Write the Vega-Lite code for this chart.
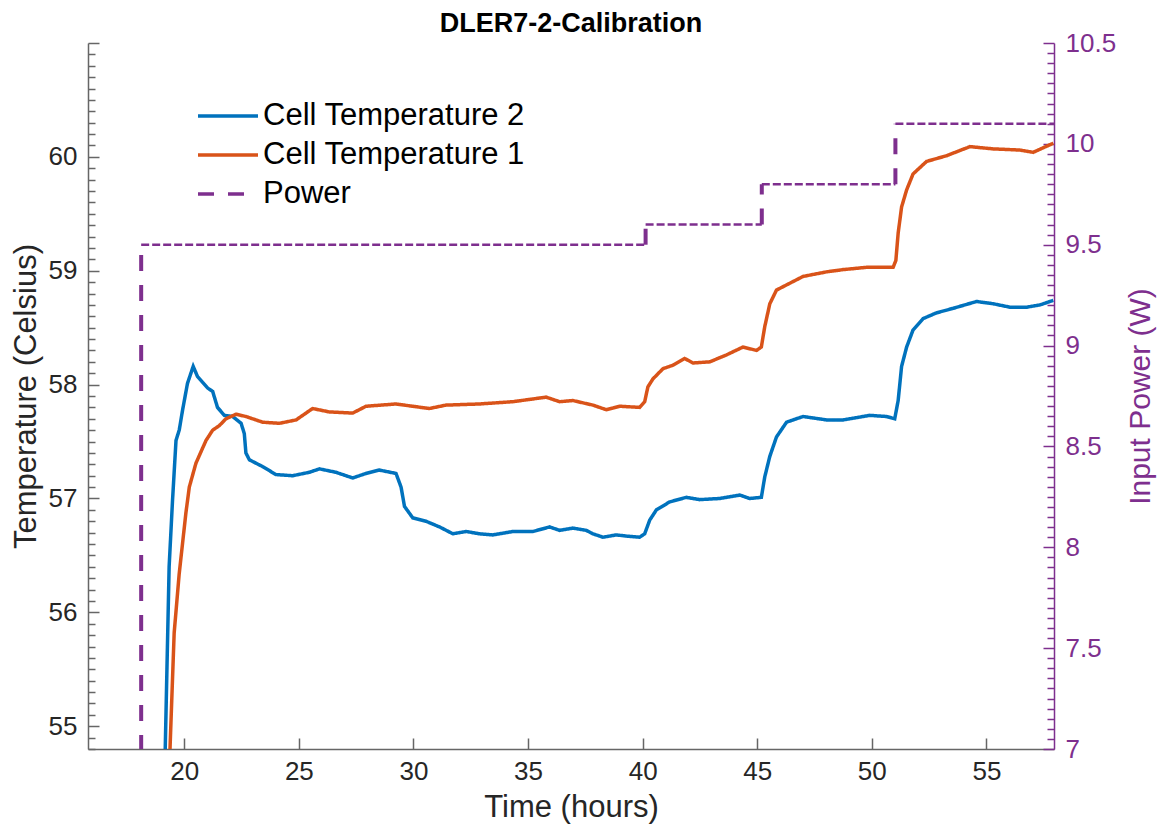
{
  "$schema": "https://vega.github.io/schema/vega-lite/v6.json",
  "width": 966,
  "height": 706,
  "autosize": {"type": "none"},
  "padding": {"left": 88, "top": 43, "right": 109, "bottom": 77},
  "background": "white",
  "config": {
    "view": {"stroke": null},
    "font": "Liberation Sans",
    "axis": {"grid": false, "labelFont": "Liberation Sans", "titleFont": "Liberation Sans", "labelFontSize": 26, "titleFontSize": 30, "titleFontWeight": "normal", "labelColor": "#262626", "titleColor": "#262626", "domainColor": "#666666", "tickColor": "#666666", "domainWidth": 1.5, "tickWidth": 1.5, "labelOverlap": false, "labelFlush": false}
  },
  "title": {"text": "DLER7-2-Calibration", "font": "Liberation Sans", "fontSize": 27, "fontWeight": "bold", "color": "#000000", "anchor": "middle", "offset": -8},
  "datasets": {
    "temp": [
      {"time": 19.05, "series": "Cell Temperature 2", "temp": 54.0},
      {"time": 19.17, "series": "Cell Temperature 2", "temp": 54.8},
      {"time": 19.34, "series": "Cell Temperature 2", "temp": 56.40},
      {"time": 19.49, "series": "Cell Temperature 2", "temp": 56.99},
      {"time": 19.64, "series": "Cell Temperature 2", "temp": 57.51},
      {"time": 19.78, "series": "Cell Temperature 2", "temp": 57.60},
      {"time": 19.93, "series": "Cell Temperature 2", "temp": 57.78},
      {"time": 20.14, "series": "Cell Temperature 2", "temp": 58.01},
      {"time": 20.39, "series": "Cell Temperature 2", "temp": 58.16},
      {"time": 20.58, "series": "Cell Temperature 2", "temp": 58.07},
      {"time": 20.80, "series": "Cell Temperature 2", "temp": 58.02},
      {"time": 21.02, "series": "Cell Temperature 2", "temp": 57.97},
      {"time": 21.24, "series": "Cell Temperature 2", "temp": 57.94},
      {"time": 21.45, "series": "Cell Temperature 2", "temp": 57.80},
      {"time": 21.75, "series": "Cell Temperature 2", "temp": 57.73},
      {"time": 22.11, "series": "Cell Temperature 2", "temp": 57.72},
      {"time": 22.48, "series": "Cell Temperature 2", "temp": 57.66},
      {"time": 22.62, "series": "Cell Temperature 2", "temp": 57.57},
      {"time": 22.69, "series": "Cell Temperature 2", "temp": 57.40},
      {"time": 22.84, "series": "Cell Temperature 2", "temp": 57.34},
      {"time": 23.42, "series": "Cell Temperature 2", "temp": 57.28},
      {"time": 24.00, "series": "Cell Temperature 2", "temp": 57.21},
      {"time": 24.73, "series": "Cell Temperature 2", "temp": 57.20},
      {"time": 25.46, "series": "Cell Temperature 2", "temp": 57.23},
      {"time": 25.90, "series": "Cell Temperature 2", "temp": 57.26},
      {"time": 26.62, "series": "Cell Temperature 2", "temp": 57.23},
      {"time": 27.35, "series": "Cell Temperature 2", "temp": 57.18},
      {"time": 27.93, "series": "Cell Temperature 2", "temp": 57.22},
      {"time": 28.50, "series": "Cell Temperature 2", "temp": 57.25},
      {"time": 29.24, "series": "Cell Temperature 2", "temp": 57.22},
      {"time": 29.46, "series": "Cell Temperature 2", "temp": 57.10},
      {"time": 29.61, "series": "Cell Temperature 2", "temp": 56.93},
      {"time": 29.97, "series": "Cell Temperature 2", "temp": 56.83},
      {"time": 30.55, "series": "Cell Temperature 2", "temp": 56.80},
      {"time": 31.14, "series": "Cell Temperature 2", "temp": 56.75},
      {"time": 31.72, "series": "Cell Temperature 2", "temp": 56.69},
      {"time": 32.30, "series": "Cell Temperature 2", "temp": 56.71},
      {"time": 32.88, "series": "Cell Temperature 2", "temp": 56.69},
      {"time": 33.46, "series": "Cell Temperature 2", "temp": 56.68},
      {"time": 34.34, "series": "Cell Temperature 2", "temp": 56.71},
      {"time": 35.21, "series": "Cell Temperature 2", "temp": 56.71},
      {"time": 35.94, "series": "Cell Temperature 2", "temp": 56.75},
      {"time": 36.38, "series": "Cell Temperature 2", "temp": 56.72},
      {"time": 36.96, "series": "Cell Temperature 2", "temp": 56.74},
      {"time": 37.54, "series": "Cell Temperature 2", "temp": 56.72},
      {"time": 37.83, "series": "Cell Temperature 2", "temp": 56.69},
      {"time": 38.27, "series": "Cell Temperature 2", "temp": 56.66},
      {"time": 38.85, "series": "Cell Temperature 2", "temp": 56.68},
      {"time": 39.29, "series": "Cell Temperature 2", "temp": 56.67},
      {"time": 39.87, "series": "Cell Temperature 2", "temp": 56.66},
      {"time": 40.09, "series": "Cell Temperature 2", "temp": 56.69},
      {"time": 40.31, "series": "Cell Temperature 2", "temp": 56.81},
      {"time": 40.60, "series": "Cell Temperature 2", "temp": 56.90},
      {"time": 41.18, "series": "Cell Temperature 2", "temp": 56.97},
      {"time": 41.91, "series": "Cell Temperature 2", "temp": 57.01},
      {"time": 42.49, "series": "Cell Temperature 2", "temp": 56.99},
      {"time": 43.36, "series": "Cell Temperature 2", "temp": 57.00},
      {"time": 44.24, "series": "Cell Temperature 2", "temp": 57.03},
      {"time": 44.67, "series": "Cell Temperature 2", "temp": 57.00},
      {"time": 45.18, "series": "Cell Temperature 2", "temp": 57.01},
      {"time": 45.33, "series": "Cell Temperature 2", "temp": 57.19},
      {"time": 45.55, "series": "Cell Temperature 2", "temp": 57.37},
      {"time": 45.84, "series": "Cell Temperature 2", "temp": 57.54},
      {"time": 46.28, "series": "Cell Temperature 2", "temp": 57.67},
      {"time": 47.00, "series": "Cell Temperature 2", "temp": 57.72},
      {"time": 48.02, "series": "Cell Temperature 2", "temp": 57.69},
      {"time": 48.75, "series": "Cell Temperature 2", "temp": 57.69},
      {"time": 49.91, "series": "Cell Temperature 2", "temp": 57.73},
      {"time": 50.64, "series": "Cell Temperature 2", "temp": 57.72},
      {"time": 51.00, "series": "Cell Temperature 2", "temp": 57.70},
      {"time": 51.15, "series": "Cell Temperature 2", "temp": 57.86},
      {"time": 51.30, "series": "Cell Temperature 2", "temp": 58.16},
      {"time": 51.52, "series": "Cell Temperature 2", "temp": 58.33},
      {"time": 51.80, "series": "Cell Temperature 2", "temp": 58.48},
      {"time": 52.24, "series": "Cell Temperature 2", "temp": 58.58},
      {"time": 52.82, "series": "Cell Temperature 2", "temp": 58.63},
      {"time": 53.55, "series": "Cell Temperature 2", "temp": 58.67},
      {"time": 54.57, "series": "Cell Temperature 2", "temp": 58.73},
      {"time": 55.30, "series": "Cell Temperature 2", "temp": 58.71},
      {"time": 56.03, "series": "Cell Temperature 2", "temp": 58.68},
      {"time": 56.76, "series": "Cell Temperature 2", "temp": 58.68},
      {"time": 57.34, "series": "Cell Temperature 2", "temp": 58.70},
      {"time": 57.92, "series": "Cell Temperature 2", "temp": 58.74},
      {"time": 19.24, "series": "Cell Temperature 1", "temp": 54.0},
      {"time": 19.38, "series": "Cell Temperature 1", "temp": 54.81},
      {"time": 19.56, "series": "Cell Temperature 1", "temp": 55.82},
      {"time": 19.78, "series": "Cell Temperature 1", "temp": 56.34},
      {"time": 20.07, "series": "Cell Temperature 1", "temp": 56.87},
      {"time": 20.22, "series": "Cell Temperature 1", "temp": 57.10},
      {"time": 20.51, "series": "Cell Temperature 1", "temp": 57.31},
      {"time": 20.95, "series": "Cell Temperature 1", "temp": 57.51},
      {"time": 21.24, "series": "Cell Temperature 1", "temp": 57.60},
      {"time": 21.53, "series": "Cell Temperature 1", "temp": 57.64},
      {"time": 21.82, "series": "Cell Temperature 1", "temp": 57.70},
      {"time": 22.26, "series": "Cell Temperature 1", "temp": 57.74},
      {"time": 22.69, "series": "Cell Temperature 1", "temp": 57.72},
      {"time": 23.42, "series": "Cell Temperature 1", "temp": 57.67},
      {"time": 24.15, "series": "Cell Temperature 1", "temp": 57.66},
      {"time": 24.88, "series": "Cell Temperature 1", "temp": 57.69},
      {"time": 25.60, "series": "Cell Temperature 1", "temp": 57.79},
      {"time": 26.33, "series": "Cell Temperature 1", "temp": 57.76},
      {"time": 27.35, "series": "Cell Temperature 1", "temp": 57.75},
      {"time": 27.93, "series": "Cell Temperature 1", "temp": 57.81},
      {"time": 29.24, "series": "Cell Temperature 1", "temp": 57.83},
      {"time": 30.69, "series": "Cell Temperature 1", "temp": 57.79},
      {"time": 31.42, "series": "Cell Temperature 1", "temp": 57.82},
      {"time": 32.88, "series": "Cell Temperature 1", "temp": 57.83},
      {"time": 34.34, "series": "Cell Temperature 1", "temp": 57.85},
      {"time": 35.79, "series": "Cell Temperature 1", "temp": 57.89},
      {"time": 36.38, "series": "Cell Temperature 1", "temp": 57.85},
      {"time": 36.96, "series": "Cell Temperature 1", "temp": 57.86},
      {"time": 37.83, "series": "Cell Temperature 1", "temp": 57.82},
      {"time": 38.41, "series": "Cell Temperature 1", "temp": 57.78},
      {"time": 39.00, "series": "Cell Temperature 1", "temp": 57.81},
      {"time": 39.87, "series": "Cell Temperature 1", "temp": 57.80},
      {"time": 40.09, "series": "Cell Temperature 1", "temp": 57.85},
      {"time": 40.23, "series": "Cell Temperature 1", "temp": 57.98},
      {"time": 40.45, "series": "Cell Temperature 1", "temp": 58.05},
      {"time": 40.89, "series": "Cell Temperature 1", "temp": 58.14},
      {"time": 41.32, "series": "Cell Temperature 1", "temp": 58.17},
      {"time": 41.83, "series": "Cell Temperature 1", "temp": 58.23},
      {"time": 42.20, "series": "Cell Temperature 1", "temp": 58.19},
      {"time": 42.93, "series": "Cell Temperature 1", "temp": 58.20},
      {"time": 43.65, "series": "Cell Temperature 1", "temp": 58.26},
      {"time": 44.38, "series": "Cell Temperature 1", "temp": 58.33},
      {"time": 44.97, "series": "Cell Temperature 1", "temp": 58.30},
      {"time": 45.18, "series": "Cell Temperature 1", "temp": 58.33},
      {"time": 45.33, "series": "Cell Temperature 1", "temp": 58.51},
      {"time": 45.55, "series": "Cell Temperature 1", "temp": 58.71},
      {"time": 45.84, "series": "Cell Temperature 1", "temp": 58.83},
      {"time": 46.42, "series": "Cell Temperature 1", "temp": 58.89},
      {"time": 47.00, "series": "Cell Temperature 1", "temp": 58.95},
      {"time": 48.02, "series": "Cell Temperature 1", "temp": 58.99},
      {"time": 48.75, "series": "Cell Temperature 1", "temp": 59.01},
      {"time": 49.77, "series": "Cell Temperature 1", "temp": 59.03},
      {"time": 50.93, "series": "Cell Temperature 1", "temp": 59.03},
      {"time": 51.05, "series": "Cell Temperature 1", "temp": 59.09},
      {"time": 51.15, "series": "Cell Temperature 1", "temp": 59.33},
      {"time": 51.30, "series": "Cell Temperature 1", "temp": 59.56},
      {"time": 51.52, "series": "Cell Temperature 1", "temp": 59.71},
      {"time": 51.80, "series": "Cell Temperature 1", "temp": 59.85},
      {"time": 52.39, "series": "Cell Temperature 1", "temp": 59.96},
      {"time": 53.26, "series": "Cell Temperature 1", "temp": 60.01},
      {"time": 54.28, "series": "Cell Temperature 1", "temp": 60.09},
      {"time": 55.30, "series": "Cell Temperature 1", "temp": 60.07},
      {"time": 56.46, "series": "Cell Temperature 1", "temp": 60.06},
      {"time": 57.04, "series": "Cell Temperature 1", "temp": 60.04},
      {"time": 57.92, "series": "Cell Temperature 1", "temp": 60.12}
    ],
    "levels": [
      {"start": 18.12, "end": 40.13, "power": 9.5},
      {"start": 40.13, "end": 45.2, "power": 9.6},
      {"start": 45.2, "end": 51.03, "power": 9.8},
      {"start": 51.03, "end": 57.95, "power": 10.1}
    ],
    "steps": [
      {"time": 18.12, "power": 0, "to": 9.5},
      {"time": 40.13, "power": 9.5, "to": 9.6},
      {"time": 45.2, "power": 9.6, "to": 9.8},
      {"time": 51.03, "power": 9.8, "to": 10.1}
    ]
  },
  "layer": [
    {
      "data": {"name": "temp"},
      "mark": {"type": "line", "clip": true, "strokeWidth": 3.5},
      "encoding": {
        "x": {"field": "time", "type": "quantitative", "scale": {"domain": [15.8, 57.95], "nice": false, "zero": false},
          "axis": {"title": "Time (hours)", "values": [20, 25, 30, 35, 40, 45, 50, 55], "tickSize": -11, "labelPadding": 20, "titlePadding": 8, "titleFontSize": 31}},
        "y": {"field": "temp", "type": "quantitative", "scale": {"domain": [54.8, 61], "nice": false, "zero": false},
          "axis": {"title": "Temperature (Celsius)", "orient": "left", "titleFontSize": 31,
            "values": [54.8,54.9,55,55.1,55.2,55.3,55.4,55.5,55.6,55.7,55.8,55.9,56,56.1,56.2,56.3,56.4,56.5,56.6,56.7,56.8,56.9,57,57.1,57.2,57.3,57.4,57.5,57.6,57.7,57.8,57.9,58,58.1,58.2,58.3,58.4,58.5,58.6,58.7,58.8,58.9,59,59.1,59.2,59.3,59.4,59.5,59.6,59.7,59.8,59.9,60,60.1,60.2,60.3,60.4,60.5,60.6,60.7,60.8,60.9,61],
            "tickSize": {"condition": {"test": "abs(datum.value - round(datum.value)) < 0.001", "value": -11}, "value": -7},
            "labelExpr": "abs(datum.value - round(datum.value)) < 0.001 && datum.value < 60.95 ? format(datum.value, 'd') : ''",
            "labelPadding": 22, "titlePadding": 6}},
        "color": {"field": "series", "type": "nominal",
          "scale": {"domain": ["Cell Temperature 2", "Cell Temperature 1", "Power"], "range": ["#0072BD", "#D95319", "#7E2F8E"]},
          "legend": {"title": null, "orient": "none", "legendX": 108, "legendY": 58, "labelFont": "Liberation Sans", "labelFontSize": 31, "labelColor": "#000000", "labelLimit": 0, "symbolSize": 3600, "symbolStrokeWidth": 3.5, "symbolType": "stroke", "labelOffset": 3, "clipHeight": 30, "rowPadding": 8}},
        "strokeDash": {"field": "series", "type": "nominal",
          "scale": {"domain": ["Cell Temperature 2", "Cell Temperature 1", "Power"], "range": [[1, 0], [1, 0], [16, 14]]},
          "legend": {"title": null, "orient": "none", "legendX": 108, "legendY": 58, "labelFont": "Liberation Sans", "labelFontSize": 31, "labelColor": "#000000", "labelLimit": 0, "symbolSize": 3600, "symbolStrokeWidth": 3.5, "symbolType": "stroke", "labelOffset": 3, "clipHeight": 30, "rowPadding": 8}}
      }
    },
    {
      "encoding": {
        "y": {"field": "power", "type": "quantitative", "scale": {"domain": [7, 10.5], "nice": false, "zero": false},
          "axis": {"title": "Input Power (W)", "orient": "right", "titleAngle": -90,
            "values": [7,7.05,7.1,7.15,7.2,7.25,7.3,7.35,7.4,7.45,7.5,7.55,7.6,7.65,7.7,7.75,7.8,7.85,7.9,7.95,8,8.05,8.1,8.15,8.2,8.25,8.3,8.35,8.4,8.45,8.5,8.55,8.6,8.65,8.7,8.75,8.8,8.85,8.9,8.95,9,9.05,9.1,9.15,9.2,9.25,9.3,9.35,9.4,9.45,9.5,9.55,9.6,9.65,9.7,9.75,9.8,9.85,9.9,9.95,10,10.05,10.1,10.15,10.2,10.25,10.3,10.35,10.4,10.45,10.5],
            "tickSize": {"condition": {"test": "abs(datum.value*2 - round(datum.value*2)) < 0.001", "value": -11}, "value": -7},
            "labelExpr": "abs(datum.value*2 - round(datum.value*2)) < 0.001 ? format(datum.value, '~g') : ''",
            "domainColor": "#7E2F8E", "tickColor": "#7E2F8E", "labelColor": "#7E2F8E", "titleColor": "#7E2F8E",
            "labelPadding": 22, "titlePadding": 40}}
      },
      "layer": [
        {
          "data": {"name": "levels"},
          "mark": {"type": "rule", "clip": true, "strokeWidth": 2.5, "strokeDash": [8, 3], "color": "#7E2F8E"},
          "encoding": {
            "x": {"field": "start", "type": "quantitative"},
            "x2": {"field": "end"}
          }
        },
        {
          "data": {"name": "steps"},
          "mark": {"type": "rule", "clip": true, "strokeWidth": 4, "strokeDash": [16, 14], "color": "#7E2F8E"},
          "encoding": {
            "x": {"field": "time", "type": "quantitative"},
            "y2": {"field": "to"}
          }
        }
      ]
    }
  ],
  "resolve": {"scale": {"y": "independent"}}
}
